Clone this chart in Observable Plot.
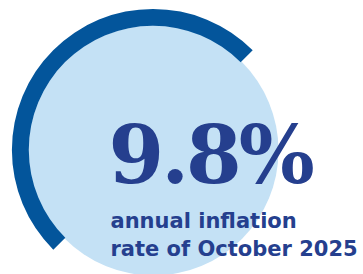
<!DOCTYPE html>
<html>
<head>
<meta charset="utf-8">
<script src="https://cdn.jsdelivr.net/npm/d3@7"></script>
<script src="https://cdn.jsdelivr.net/npm/@observablehq/plot@0.6"></script>
<style>
  html, body { margin: 0; padding: 0; background: #ffffff; }
  #chart svg { display: block; }
</style>
</head>
<body>
<div id="chart"></div>
<script>
// Data
const rateValue = [9.8];
const rateUnit = ["%"];
const captionLines = ["annual inflation", "rate of October 2025"];

// Styles / layout
const W = 363, H = 274;
const cx = 153, cy = 150;
const innerR = 124, outerR = 141;
const navy = "#253f8e";
const arcBlue = "#03559b";
const lightBlue = "#c4e1f5";

const rows = rateValue.map((v, i) => ({
  cx, cy,
  headline: `${v}${rateUnit[i]}`,
  caption: captionLines.join("\n")
}));

const arcMark = (data) => (index, scales) => {
  const g = d3.create("svg:g");
  const arc = d3.arc()
    .innerRadius(innerR)
    .outerRadius(outerR)
    .startAngle(-135 * Math.PI / 180)
    .endAngle(45 * Math.PI / 180);
  g.append("path")
    .attr("d", arc())
    .attr("fill", arcBlue)
    .attr("transform", `translate(${scales.x(data[0].cx)},${scales.y(data[0].cy)})`);
  return g.node();
};

const chart = Plot.plot({
  width: W,
  height: H,
  margin: 0,
  x: {type: "identity"},
  y: {type: "identity"},
  axis: null,
  style: {background: "#ffffff", overflow: "hidden"},
  marks: [
    Plot.dot(rows, {x: "cx", y: "cy", r: innerR + 1, fill: lightBlue, stroke: null}),
    Plot.dot(rows, {x: "cx", y: "cy", r: 0, render: arcMark(rows)}),
    Plot.text(rows, {
      x: 108, y: 182, text: "headline",
      textAnchor: "start", lineAnchor: "bottom",
      fontFamily: "DejaVu Serif", fontWeight: "bold", fontSize: 80,
      fill: navy
    }),
    Plot.text(rows, {
      x: 110, y: 255, text: "caption",
      textAnchor: "start", lineAnchor: "bottom", lineHeight: 28 / 21,
      fontFamily: "DejaVu Sans", fontWeight: "bold", fontSize: 21,
      fill: navy
    })
  ]
});

d3.select(chart).selectAll("g[font-family='DejaVu Serif'] text").style("letter-spacing", "-3px");
document.getElementById("chart").appendChild(chart);
</script>
</body>
</html>
